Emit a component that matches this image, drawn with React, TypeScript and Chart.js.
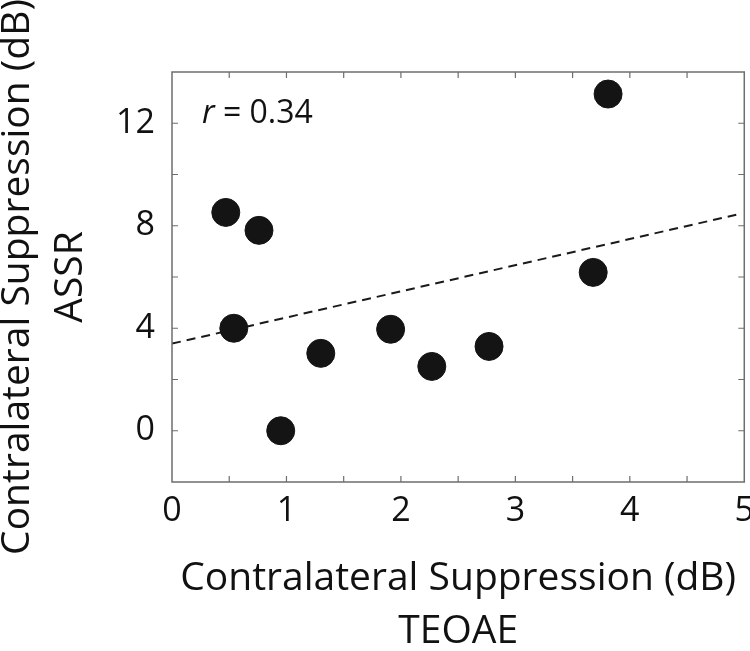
import React, { useEffect, useRef } from "react";
import { Chart, registerables } from "chart.js";

Chart.register(...registerables);

const teoae = [0.47, 0.76, 0.54, 0.95, 1.3, 1.91, 2.27, 2.77, 3.68, 3.81];
const assr = [8.52, 7.82, 4.0, 0.0, 3.02, 3.96, 2.51, 3.29, 6.18, 13.14];
const fitX = [0, 4.93];
const fitY = [3.4, 8.43];
const xTitle = ["Contralateral Suppression (dB)", "TEOAE"];
const yTitle = ["Contralateral Suppression (dB)", "ASSR"];
const rLabel = "0.34";

const FONT = "'Open Sans', 'DejaVu Sans', sans-serif";
const AXIS = "#6e6e6e";

const frame = {
  id: "frame",
  afterDraw(chart: any) {
    const { ctx, chartArea: a, scales } = chart;
    const xs = scales.x;
    const ys = scales.y;
    ctx.save();
    ctx.strokeStyle = AXIS;
    ctx.lineWidth = 1.5;
    ctx.strokeRect(a.left, a.top, a.right - a.left, a.bottom - a.top);
    ctx.lineWidth = 1.2;
    const tl = 6;
    ctx.beginPath();
    xs.ticks.forEach((t: any) => {
      const px = xs.getPixelForValue(t.value);
      if (px <= a.left + 1 || px >= a.right - 1) return;
      ctx.moveTo(px, a.bottom);
      ctx.lineTo(px, a.bottom - tl);
      ctx.moveTo(px, a.top);
      ctx.lineTo(px, a.top + tl);
    });
    ys.ticks.forEach((t: any) => {
      const py = ys.getPixelForValue(t.value);
      if (py <= a.top + 1 || py >= a.bottom - 1) return;
      ctx.moveTo(a.left, py);
      ctx.lineTo(a.left + tl, py);
      ctx.moveTo(a.right, py);
      ctx.lineTo(a.right - tl, py);
    });
    ctx.stroke();

    // r annotation
    const bx = a.left + 30;
    const by = a.top + 51;
    ctx.fillStyle = "#111";
    ctx.textBaseline = "alphabetic";
    ctx.textAlign = "left";
    ctx.font = `italic 32px ${FONT}`;
    ctx.fillText("r", bx, by);
    const w = ctx.measureText("r").width;
    ctx.font = `32px ${FONT}`;
    ctx.fillText(" = " + rLabel, bx + w, by);
    ctx.restore();
  },
};

export default function App() {
  const ref = useRef<HTMLCanvasElement | null>(null);
  useEffect(() => {
    if (!ref.current) return;
    const chart = new Chart(ref.current, {
      type: "scatter",
      data: {
        datasets: [
          {
            type: "scatter",
            data: teoae.map((x, i) => ({ x, y: assr[i] })),
            backgroundColor: "#141414",
            borderColor: "#141414",
            pointRadius: 14,
            pointHoverRadius: 14,
            order: 0,
          },
          {
            type: "line",
            data: fitX.map((x, i) => ({ x, y: fitY[i] })),
            borderColor: "#1a1a1a",
            borderWidth: 2,
            borderDash: [9, 6],
            pointRadius: 0,
            fill: false,
            order: 1,
          } as any,
        ],
      },
      options: {
        responsive: false,
        animation: false,
        layout: { padding: { top: 72, right: 0, left: 0, bottom: 0 } },
        plugins: { legend: { display: false }, tooltip: { enabled: false } },
        scales: {
          x: {
            type: "linear",
            min: 0,
            max: 5,
            grid: { display: false, drawTicks: false },
            border: { display: false },
            afterFit: (s: any) => {
              s.height = 169;
            },
            ticks: {
              stepSize: 0.5,
              padding: 9,
              color: "#111",
              font: { family: FONT, size: 34 },
              maxRotation: 0,
              autoSkip: false,
              callback: (v: any) => (Number(v) % 1 === 0 ? String(v) : ""),
            },
            title: {
              display: true,
              text: xTitle,
              color: "#111",
              font: { family: FONT, size: 39, lineHeight: 1.36 },
              padding: { top: 0, bottom: -7 },
            },
          },
          y: {
            type: "linear",
            min: -2,
            max: 14,
            grid: { display: false, drawTicks: false },
            border: { display: false },
            afterFit: (s: any) => {
              s.width = 172;
            },
            ticks: {
              stepSize: 2,
              padding: 17,
              color: "#111",
              font: { family: FONT, size: 34 },
              autoSkip: false,
              callback: (v: any) => (Number(v) % 4 === 0 ? String(v) : ""),
            },
            title: {
              display: true,
              text: yTitle,
              color: "#111",
              font: { family: FONT, size: 39, lineHeight: 1.36 },
              padding: { top: -9, bottom: 0 },
            },
          },
        },
      },
      plugins: [frame],
    });
    return () => chart.destroy();
  }, []);
  return (
    <div
      style={{
        position: "absolute",
        left: 0,
        top: 0,
        width: 750,
        height: 651,
        overflow: "hidden",
        background: "#fff",
      }}
    >
      <canvas ref={ref} width={763} height={651} style={{ display: "block" }} />
    </div>
  );
}
